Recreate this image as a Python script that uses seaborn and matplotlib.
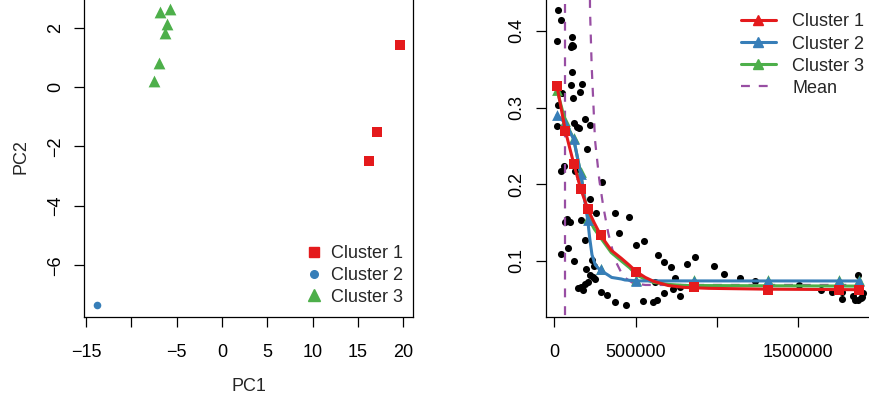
import numpy as np
import pandas as pd
import matplotlib
matplotlib.use("Agg")
import matplotlib.pyplot as plt
import seaborn as sns
from matplotlib.lines import Line2D

# ---------------- data: left panel (PCA) ----------------
pca_cluster = ["Cluster 1"] * 3 + ["Cluster 2"] + ["Cluster 3"] * 6
pc1 = [19.66, 17.12, 16.24, -13.82, -6.81, -5.70, -6.03, -6.26, -6.99, -7.50]
pc2 = [1.40, -1.53, -2.50, -7.35, 2.51, 2.63, 2.12, 1.83, 0.82, 0.20]
left_xticks = [-15, -10, -5, 0, 5, 10, 15, 20]
left_xticklabels = ["\u221215", "", "\u22125", "0", "5", "10", "15", "20"]
left_yticks = [-6, -4, -2, 0, 2]
left_yticklabels = ["\u22126", "\u22124", "\u22122", "0", "2"]

# ---------------- data: right panel ----------------
obs_x = [24600, 39400, 18500, 110700, 110700, 102700, 116900, 110700, 102700, 168500,
         158100, 115000, 45500, 24600, 18500, 123000, 137800, 153800, 188800, 219600,
         199300, 61500, 41200, 127300, 293000, 219600, 373300, 461300, 255000, 164200,
         76300, 96600, 66000, 396000, 190000, 82400, 41200, 502500, 551700, 230000,
         123000, 246000, 193100, 639600, 672000, 716000, 814300, 865300, 983000, 1043700,
         1142000, 1234000, 743000, 219600, 239900, 250300, 209100, 188800, 164200, 143900,
         178400, 287200, 327000, 373300, 440000, 543700, 608800, 629800, 676500, 731800,
         773100, 773100, 619300, 1507000, 1640000, 1706000, 1770000, 1767600, 1866000, 1838800,
         1849000, 1869600, 1884000, 1896000, 1890500]
obs_y = [0.427, 0.414, 0.387, 0.392, 0.382, 0.379, 0.380, 0.347, 0.330, 0.331,
         0.321, 0.312, 0.319, 0.304, 0.276, 0.280, 0.275, 0.273, 0.285, 0.277,
         0.246, 0.224, 0.217, 0.217, 0.203, 0.181, 0.163, 0.157, 0.162, 0.154,
         0.155, 0.151, 0.151, 0.137, 0.127, 0.117, 0.109, 0.121, 0.1265, 0.101,
         0.100, 0.094, 0.090, 0.108, 0.099, 0.092, 0.096, 0.1056, 0.0935, 0.083,
         0.078, 0.0735, 0.0774, 0.0815, 0.079, 0.076, 0.073, 0.070, 0.0657, 0.0644,
         0.0622, 0.060, 0.0552, 0.047, 0.0424, 0.0475, 0.0469, 0.0491, 0.0587, 0.0631,
         0.0548, 0.0657, 0.073, 0.0683, 0.0625, 0.0595, 0.0504, 0.060, 0.0817, 0.0545,
         0.0491, 0.0495, 0.0513, 0.0579, 0.0534]

grid_x = [16600, 67700, 119300, 162400, 205400, 285300, 504300, 861000, 1316000, 1752700, 1872000]
c1_pts = [0.328, 0.270, 0.227, 0.194, 0.168, 0.1335, 0.086, 0.0657, 0.0622, 0.0622, 0.0622]
c2_pts = [0.290, 0.280, 0.259, 0.214, 0.1535, 0.089, 0.0743, 0.0743, 0.0743, 0.0743, 0.0743]
c3_pts = [0.323, 0.283, 0.261, 0.216, 0.156, 0.090, 0.0748, 0.0748, 0.0748, 0.0748, 0.0748]

c1_line_x = [16600, 67700, 119300, 162400, 205400, 245000, 285300, 350000, 412000, 464000,
             504300, 560000, 610000, 700000, 800000, 950000, 1316000, 1885000]
c1_line_y = [0.328, 0.270, 0.227, 0.194, 0.168, 0.150, 0.1335, 0.114, 0.1035, 0.094,
             0.086, 0.0785, 0.0735, 0.068, 0.0655, 0.0643, 0.0632, 0.0625]
c2_line_x = [16600, 67700, 119300, 162400, 205400, 217600, 231800, 252200, 279000, 330000,
             353000, 412000, 435000, 515000, 1885000]
c2_line_y = [0.290, 0.280, 0.259, 0.214, 0.1535, 0.130, 0.108, 0.095, 0.0885, 0.0817,
             0.0785, 0.0765, 0.0752, 0.0740, 0.0739]
c3_line_x = [16600, 67700, 119300, 162400, 205400, 245000, 285300, 350000, 412000, 464000,
             504300, 560000, 610000, 700000, 800000, 1885000]
c3_line_y = [0.323, 0.282, 0.259, 0.214, 0.158, 0.142, 0.130, 0.111, 0.100, 0.091,
             0.082, 0.076, 0.072, 0.0695, 0.068, 0.0672]
mean_x = [65800, 65800, 215000, 219600, 230000, 250300, 276800, 301400, 332100, 373300,
          424400, 485900, 560000, 1885000]
mean_y = [-0.5, 1.5, 0.6, 0.4274, 0.3534, 0.2578, 0.2057, 0.1708, 0.1361, 0.1013,
          0.0795, 0.0709, 0.0687, 0.0687]

right_xticks = [0, 500000, 1000000, 1500000]
right_xticklabels = ["0", "500000", "", "1500000"]
right_yticks = [0.1, 0.2, 0.3, 0.4]
right_yticklabels = ["0.1", "0.2", "0.3", "0.4"]

legend_labels = ["Cluster 1", "Cluster 2", "Cluster 3"]

# ---------------- style ----------------
RED, BLUE, GREEN, PURPLE = "#E41A1C", "#377EB8", "#4DAF4A", "#984EA3"
sns.set_style("ticks")
plt.rcParams["font.family"] = ["Liberation Sans", "DejaVu Sans"]
FS = 13

W, H = 869, 403
fig = plt.figure(figsize=(W / 100, H / 100), dpi=100)


def px_axes(left, right, top, bottom):
    return fig.add_axes([left / W, 1 - bottom / H, (right - left) / W, (bottom - top) / H])


axL = px_axes(84.3, 412.7, -3, 316.7)
axR = px_axes(545.7, 872.0, -2, 316.7)

# ---------------- left panel ----------------
df = pd.DataFrame({"PC1": pc1, "PC2": pc2, "Cluster": pca_cluster})
specs = {"Cluster 1": (RED, "s", 62), "Cluster 2": (BLUE, "o", 30), "Cluster 3": (GREEN, "^", 72)}
for name, (col, mk, s) in specs.items():
    sub = df[df["Cluster"] == name]
    sns.scatterplot(data=sub, x="PC1", y="PC2", color=col, marker=mk, s=s,
                    linewidth=0, ax=axL, legend=False, zorder=3)
axL.set_xlim(-15.19, 21.04)
axL.set_ylim(-7.73, 3.03)
axL.set_xticks(left_xticks)
axL.set_xticklabels(left_xticklabels)
axL.set_yticks(left_yticks)
axL.set_yticklabels(left_yticklabels)
axL.set_xlabel("PC1", fontsize=FS, labelpad=12.5)
axL.set_ylabel("PC2", fontsize=FS, labelpad=13)

hL = [Line2D([], [], ls="none", marker="s", color=RED, markersize=7.5),
      Line2D([], [], ls="none", marker="o", color=BLUE, markersize=5.5),
      Line2D([], [], ls="none", marker="^", color=GREEN, markersize=8.3)]
axL.legend(hL, legend_labels, loc="upper left", bbox_to_anchor=(305 / W, 1 - 245.5 / H),
           bbox_transform=fig.transFigure, frameon=False, fontsize=FS, borderpad=0,
           handlelength=1.0, handletextpad=0.44, labelspacing=0.25, borderaxespad=0)

# ---------------- right panel ----------------
sns.scatterplot(x=obs_x, y=obs_y, color="black", s=26, linewidth=0, ax=axR, zorder=2)
sns.lineplot(x=mean_x, y=mean_y, estimator=None, sort=False, color=PURPLE, lw=1.6,
             dashes=False, ax=axR, zorder=3).lines[-1].set_dashes((4, 4))
for lx, ly, col, z in [(c3_line_x, c3_line_y, GREEN, 4), (c2_line_x, c2_line_y, BLUE, 5),
                       (c1_line_x, c1_line_y, RED, 6)]:
    sns.lineplot(x=lx, y=ly, estimator=None, sort=False, color=col, lw=2.2, ax=axR, zorder=z)
sns.scatterplot(x=grid_x, y=c3_pts, color=GREEN, marker="^", s=60, linewidth=0, ax=axR, zorder=4.5)
sns.scatterplot(x=grid_x, y=c2_pts, color=BLUE, marker="^", s=60, linewidth=0, ax=axR, zorder=5.5)
sns.scatterplot(x=grid_x, y=c1_pts, color=RED, marker="s", s=55, linewidth=0, ax=axR, zorder=6.5)

axR.set_xlim(-52900, 1953900)
axR.set_ylim(0.0273, 0.443)
axR.set_xticks(right_xticks)
axR.set_xticklabels(right_xticklabels)
axR.set_yticks(right_yticks)
axR.set_yticklabels(right_yticklabels)
axR.set_xlabel("")
axR.set_ylabel("")

hR = [Line2D([], [], color=RED, lw=2.2, marker="^", markersize=7),
      Line2D([], [], color=BLUE, lw=2.2, marker="^", markersize=7),
      Line2D([], [], color=GREEN, lw=2.2, marker="^", markersize=7),
      Line2D([], [], color=PURPLE, lw=1.6, dashes=(4, 4))]
axR.legend(hR, legend_labels + ["Mean"], loc="upper left", bbox_to_anchor=(741 / W, 1 - 13.5 / H),
           bbox_transform=fig.transFigure, frameon=False, fontsize=FS, borderpad=0,
           handlelength=1.92, handletextpad=0.92, labelspacing=0.28, borderaxespad=0)

for ax in (axL, axR):
    for sp in ax.spines.values():
        sp.set_visible(True)
        sp.set_linewidth(0.9)
        sp.set_color("black")
    ax.tick_params(axis="both", direction="out", length=7.5, width=0.9, labelsize=FS,
                   color="black", labelcolor="black")
    ax.tick_params(axis="x", pad=12)
    ax.tick_params(axis="y", pad=7)
    for lab in ax.get_yticklabels():
        lab.set_rotation(90)
        lab.set_va("center")

fig.savefig("out.png", dpi=100)
